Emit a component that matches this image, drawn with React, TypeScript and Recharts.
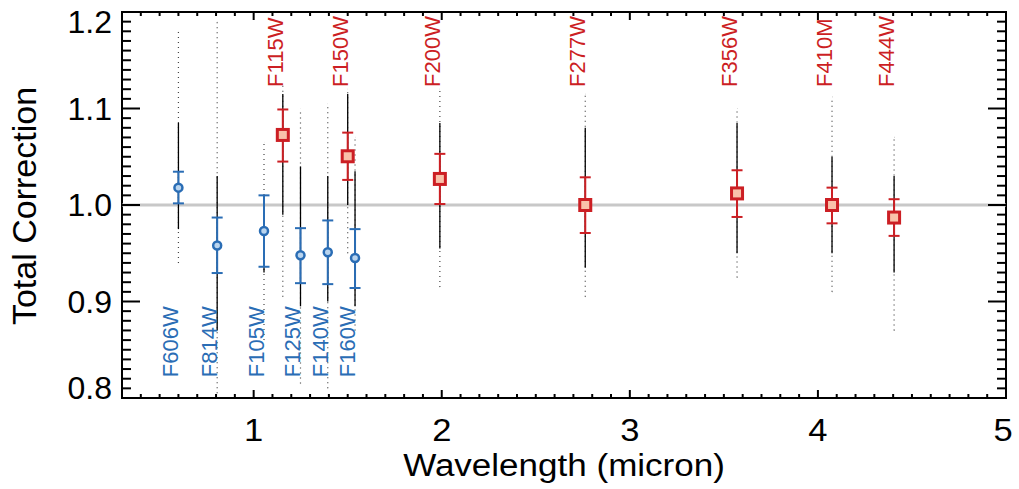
import React from 'react';
import {
  ComposedChart,
  Scatter,
  XAxis,
  YAxis,
  ErrorBar,
  ReferenceLine,
  ReferenceArea,
  Label,
} from 'recharts';

// ---------- data ----------
const hstFilters = ['F606W', 'F814W', 'F105W', 'F125W', 'F140W', 'F160W'];
const hstWave = [0.6, 0.806, 1.055, 1.249, 1.394, 1.539];
const hstValue = [1.018, 0.958, 0.973, 0.948, 0.951, 0.945];
const hstLow = [1.0017, 0.9295, 0.936, 0.919, 0.918, 0.914];
const hstHigh = [1.0345, 0.987, 1.01, 0.976, 0.984, 0.975];

const jwstFilters = ['F115W', 'F150W', 'F200W', 'F277W', 'F356W', 'F410M', 'F444W'];
const jwstWave = [1.155, 1.5, 1.99, 2.763, 3.57, 4.075, 4.405];
const jwstValue = [1.0726, 1.0505, 1.027, 1.0, 1.012, 1.0, 0.987];
const jwstLow = [1.045, 1.026, 1.001, 0.971, 0.9876, 0.981, 0.968];
const jwstHigh = [1.099, 1.075, 1.053, 1.0287, 1.036, 1.018, 1.006];

// per-source distributions (columns of small dots)
const cloudWave = [0.6, 0.806, 1.055, 1.155, 1.249, 1.394, 1.5, 1.539, 1.99, 2.763, 3.57, 4.075, 4.405];
const cloudSparseLo = [0.94, 0.805, 0.86, 0.905, 0.815, 0.81, 0.95, 0.87, 0.915, 0.905, 0.925, 0.91, 0.87];
const cloudDenseLo = [0.975, 0.87, 0.93, 0.99, 0.895, 0.9, 1.0, 0.895, 0.955, 0.935, 0.95, 0.95, 0.93];
const cloudDenseHi = [1.085, 1.03, 0.965, 1.115, 1.04, 1.03, 1.115, 1.035, 1.085, 1.08, 1.085, 1.05, 1.03];
const cloudSparseHi = [1.18, 1.19, 1.065, 1.125, 1.1, 1.105, 1.12, 1.07, 1.12, 1.115, 1.1, 1.112, 1.07];

const yMajorTicks = [0.8, 0.9, 1.0, 1.1, 1.2];
const xMajorTicks = [1, 2, 3, 4, 5];
const xDomain = [0.3, 5];
const yDomain = [0.8, 1.2];

// ---------- layout / style ----------
const W = 1019;
const H = 489;
const LEFT = 122;
const RIGHT = 1006;
const TOP = 12;
const BOTTOM = 398;
const FONT = '"Liberation Sans", Arial, Helvetica, sans-serif';
const BLUE = '#2a6db5';
const BLUE_FILL = '#b9d4ee';
const RED = '#cc1f24';
const RED_FILL = '#f9c2aa';
const LABEL_Y_LOW = 0.8215;
const LABEL_Y_HIGH = 1.1224;

const yMinorTicks = Array.from({ length: 41 }, (_, i) => Math.round((0.8 + i * 0.01) * 100) / 100);
const xMinorTicks = Array.from({ length: 48 }, (_, i) => Math.round((0.3 + i * 0.1) * 10) / 10);

const isMajor = (v: number, majors: number[]) => majors.some((m) => Math.abs(m - v) < 1e-6);

const hstData = hstFilters.map((name, i) => ({
  name,
  x: hstWave[i],
  y: hstValue[i],
  err: [hstValue[i] - hstLow[i], hstHigh[i] - hstValue[i]],
}));
const jwstData = jwstFilters.map((name, i) => ({
  name,
  x: jwstWave[i],
  y: jwstValue[i],
  err: [jwstValue[i] - jwstLow[i], jwstHigh[i] - jwstValue[i]],
}));
const sparseData = cloudWave.map((x, i) => ({ x, y: cloudSparseLo[i], span: [0, cloudSparseHi[i] - cloudSparseLo[i]] }));
const denseData = cloudWave.map((x, i) => ({ x, y: cloudDenseLo[i], span: [0, cloudDenseHi[i] - cloudDenseLo[i]] }));
const hstLabelData = hstFilters.map((name, i) => ({ name, x: hstWave[i], y: LABEL_Y_LOW }));
const jwstLabelData = jwstFilters.map((name, i) => ({ name, x: jwstWave[i], y: LABEL_Y_HIGH }));

const YTick = (props: any) => {
  const { payload } = props;
  const y = payload.coordinate;
  const major = isMajor(payload.value, yMajorTicks);
  const len = major ? 18 : 9;
  const ty = Math.min(Math.max(y, TOP + 10), BOTTOM - 10) + 11;
  return (
    <g>
      <line x1={LEFT} x2={LEFT + len} y1={y} y2={y} stroke="#000" strokeWidth={2} />
      <line x1={RIGHT} x2={RIGHT - len} y1={y} y2={y} stroke="#000" strokeWidth={2} />
      {major && (
        <text x={LEFT - 10} y={ty} textAnchor="end" fontSize={32} fontFamily={FONT} fill="#000">
          {payload.value.toFixed(1)}
        </text>
      )}
    </g>
  );
};

const XTick = (props: any) => {
  const { payload } = props;
  const x = payload.coordinate;
  const major = isMajor(payload.value, xMajorTicks);
  const len = major ? 8 : 4;
  const tx = Math.min(x, RIGHT - 3);
  return (
    <g>
      <line x1={x} x2={x} y1={BOTTOM} y2={BOTTOM - len} stroke="#000" strokeWidth={2} />
      <line x1={x} x2={x} y1={TOP} y2={TOP + len} stroke="#000" strokeWidth={2} />
      {major && (
        <text
          x={0}
          y={0}
          transform={`translate(${tx} 440.5) scale(1.08 1)`}
          textAnchor="middle"
          fontSize={32}
          fontFamily={FONT}
          fill="#000"
        >
          {String(payload.value)}
        </text>
      )}
    </g>
  );
};

const Circle = (props: any) => (
  <circle cx={props.cx} cy={props.cy} r={4} fill={BLUE_FILL} stroke={BLUE} strokeWidth={2.5} />
);
const Square = (props: any) => (
  <rect x={props.cx - 5.5} y={props.cy - 5.5} width={11} height={11} fill={RED_FILL} stroke={RED} strokeWidth={3} />
);
const Nothing = () => <g />;

const makeLabel = (color: string) => (props: any) => {
  const { cx, cy, payload } = props;
  return (
    <text
      x={cx}
      y={cy}
      transform={`rotate(-90 ${cx} ${cy})`}
      textAnchor="start"
      fontSize={22}
      fontFamily={FONT}
      fill={color}
    >
      {payload.name}
    </text>
  );
};

export default function App() {
  return (
    <div style={{ position: 'absolute', left: 0, top: 0, width: W, height: H, background: '#fff' }}>
      <ComposedChart width={W} height={H} margin={{ top: TOP, right: W - RIGHT, bottom: 0, left: 0 }}>
        <XAxis
          type="number"
          dataKey="x"
          domain={xDomain}
          ticks={xMinorTicks}
          interval={0}
          allowDataOverflow
          height={H - BOTTOM}
          axisLine={false}
          tickLine={false}
          tick={<XTick />}
        >
          <Label
            content={() => (
              <text
                x={0}
                y={0}
                transform={`translate(${(LEFT + RIGHT) / 2} 476) scale(1.13 1)`}
                textAnchor="middle"
                fontSize={31}
                fontFamily={FONT}
                fill="#000"
              >
                Wavelength (micron)
              </text>
            )}
          />
        </XAxis>
        <YAxis
          type="number"
          dataKey="y"
          domain={yDomain}
          ticks={yMinorTicks}
          interval={0}
          allowDataOverflow
          width={LEFT}
          axisLine={false}
          tickLine={false}
          tick={<YTick />}
        >
          <Label
            content={() => (
              <text
                x={36}
                y={206}
                transform="rotate(-90 36 206)"
                textAnchor="middle"
                fontSize={34}
                fontFamily={FONT}
                fill="#000"
              >
                Total Correction
              </text>
            )}
          />
        </YAxis>
        <ReferenceLine y={1} stroke="#c8c8c8" strokeWidth={3} />
        <Scatter data={sparseData} dataKey="y" shape={<Nothing />} isAnimationActive={false}>
          <ErrorBar dataKey="span" direction="y" width={0} stroke="#444" strokeWidth={1.2} strokeDasharray="1 4" isAnimationActive={false} />
        </Scatter>
        <Scatter data={denseData} dataKey="y" shape={<Nothing />} isAnimationActive={false}>
          <ErrorBar dataKey="span" direction="y" width={0} stroke="#000" strokeWidth={1.3} isAnimationActive={false} />
        </Scatter>
        <Scatter data={hstData} dataKey="y" shape={<Circle />} isAnimationActive={false}>
          <ErrorBar dataKey="err" direction="y" width={5.5} stroke={BLUE} strokeWidth={2} isAnimationActive={false} />
        </Scatter>
        <Scatter data={jwstData} dataKey="y" shape={<Square />} isAnimationActive={false}>
          <ErrorBar dataKey="err" direction="y" width={5.5} stroke={RED} strokeWidth={2} isAnimationActive={false} />
        </Scatter>
        <Scatter data={hstLabelData} dataKey="y" shape={makeLabel(BLUE)} isAnimationActive={false} />
        <Scatter data={jwstLabelData} dataKey="y" shape={makeLabel(RED)} isAnimationActive={false} />
        <ReferenceArea x1={0.3} x2={5} y1={0.8} y2={1.2} fill="none" stroke="#000" strokeWidth={2} />
      </ComposedChart>
    </div>
  );
}
